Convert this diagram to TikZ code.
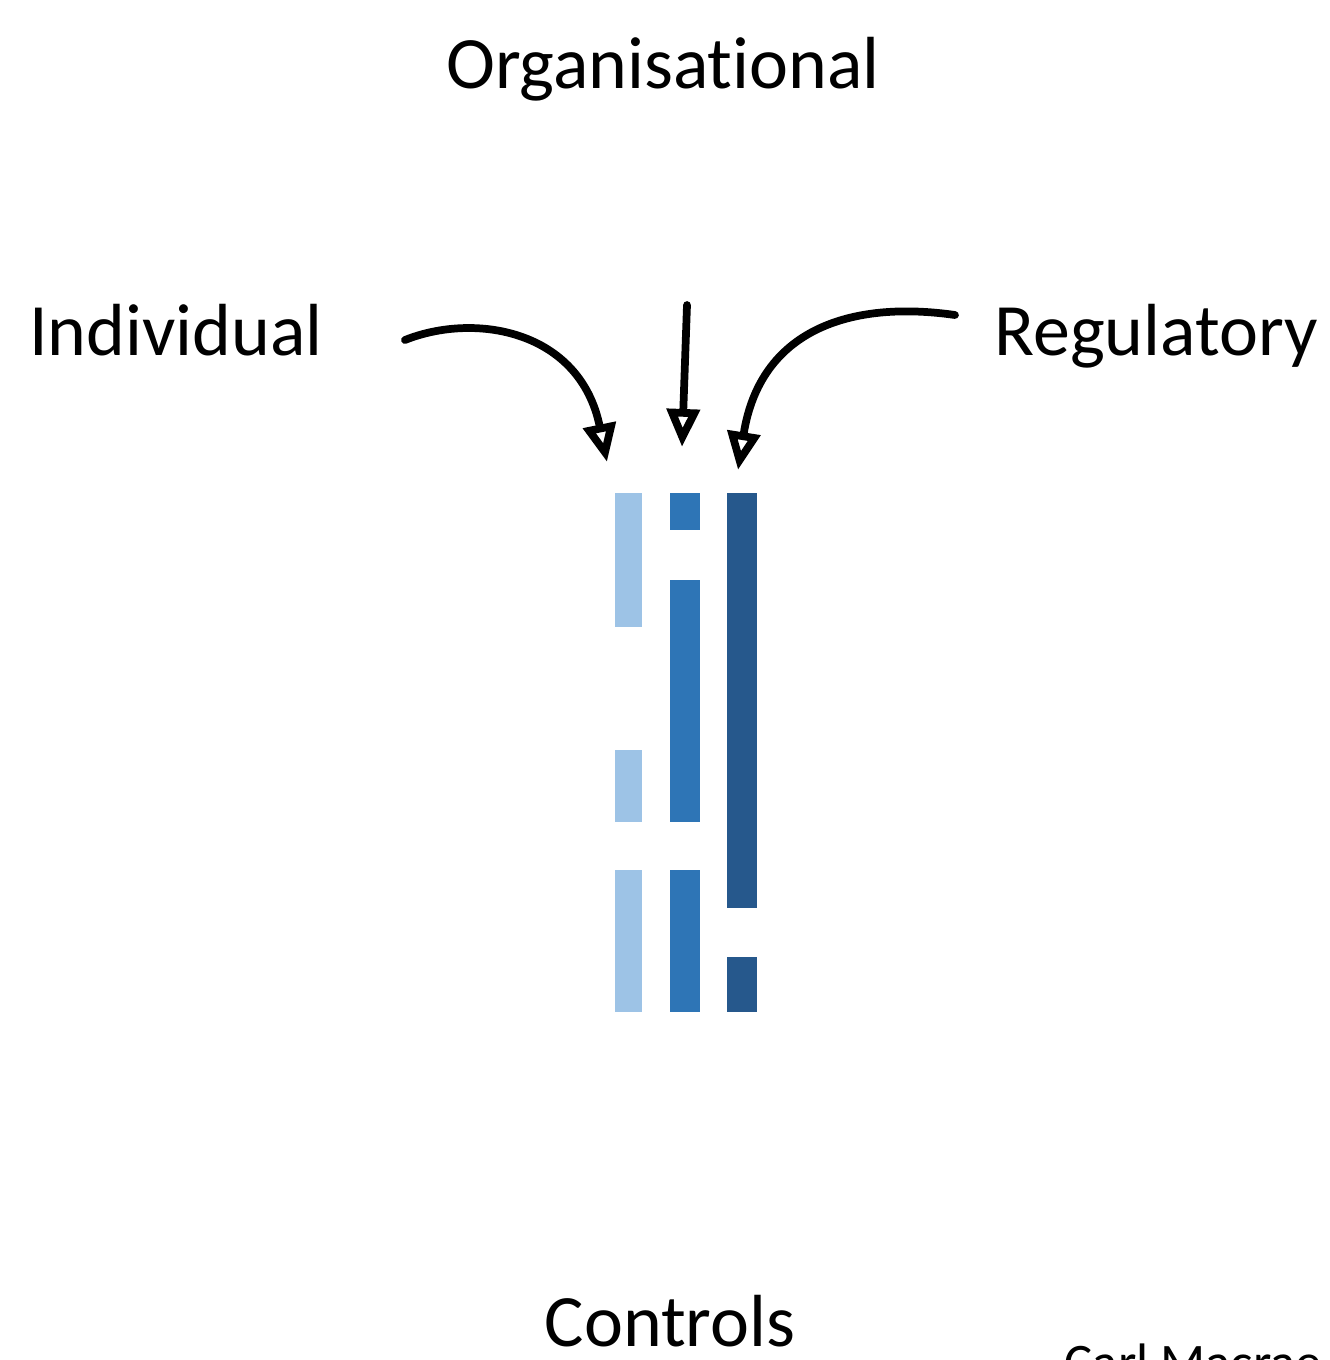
\documentclass[tikz,border=0pt]{standalone}
\usepackage{fontspec}
\setmainfont{Carlito}[Ligatures=NoCommon]
\usetikzlibrary{arrows.meta,positioning}
\definecolor{indivblue}{RGB}{157,195,230}
\definecolor{orgblue}{RGB}{46,117,182}
\definecolor{regblue}{RGB}{38,88,140}

\begin{document}
\begin{tikzpicture}[
    x=0.01cm, y=-0.01cm,
    label/.style={inner sep=0pt, anchor=base, font=\fontsize{21}{25}\selectfont},
    note/.style={inner sep=0pt, anchor=base west, font=\fontsize{15}{18}\selectfont},
    handarrow/.style={-{Triangle[open, length=0.38cm, width=0.32cm]}, line width=2.2pt, line cap=round},
]
\useasboundingbox (0,0) rectangle (1329,1360);

% Labels
\node[label] (org) at (663, 88) {Organisational};
\node[label] (ind) at (176, 355) {Individual};
\node[label] (reg) at (1156, 355) {Regulatory};
\node[label] (ctrl) at (670, 1346) {Controls};

% Arrow ends
\coordinate (indstart) at (405, 340);
\coordinate (indend) at (607, 462);
\coordinate (orgstart) at (687, 305);
\coordinate (orgend) at (682, 447);
\coordinate (regstart) at (955, 315);
\coordinate (regend) at (738, 470);

\draw[handarrow] (indstart) .. controls (475,312) and (580,330) .. (indend);
\draw[handarrow] (orgstart) -- (orgend);
\draw[handarrow] (regstart) .. controls (850,300) and (760,330) .. (regend);

% Individual column
\fill[indivblue] (615, 493) rectangle (642, 627);
\fill[indivblue] (615, 750) rectangle (642, 822);
\fill[indivblue] (615, 870) rectangle (642, 1012);

% Organisational column
\fill[orgblue] (670, 493) rectangle (700, 530);
\fill[orgblue] (670, 580) rectangle (700, 822);
\fill[orgblue] (670, 870) rectangle (700, 1012);

% Regulatory column
\fill[regblue] (727, 493) rectangle (757, 908);
\fill[regblue] (727, 957) rectangle (757, 1012);

% Cut-off note
\begin{scope}
    \clip (0,0) rectangle (1329,1360);
    \node[note] (src) at (1064, 1380) {Carl Macrae};
\end{scope}

\end{tikzpicture}
\end{document}
